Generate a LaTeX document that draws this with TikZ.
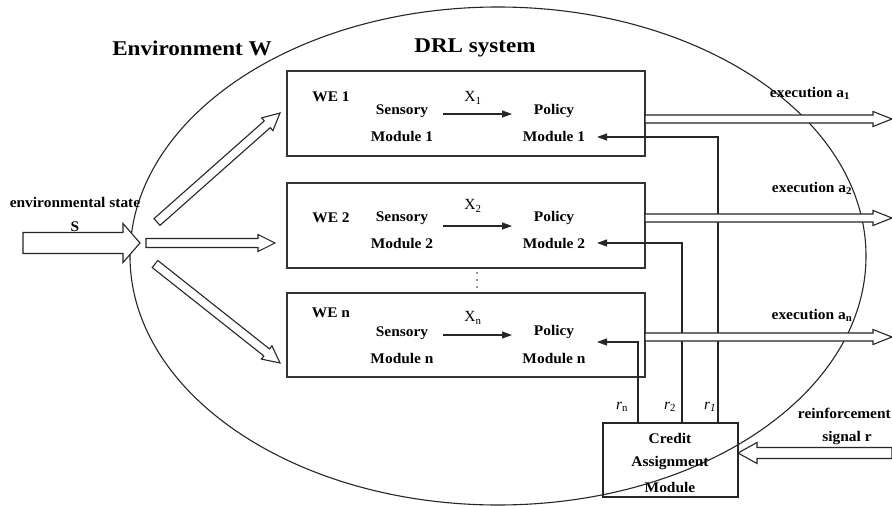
\documentclass[tikz,border=0pt]{standalone}
\usepackage{fontspec}
\setmainfont{Liberation Serif}
\newfontfamily\widefont[FakeStretch=1.05]{Liberation Serif}
\newfontfamily\titlefont[FakeStretch=1.1]{Liberation Serif}
\usetikzlibrary{arrows.meta}
\newcommand\HArrow[7]{%
  \pgfmathsetmacro\hang{atan2(#2-#4,#3-#1)}%
  \pgfmathsetmacro\hlen{veclen(#3-#1,#4-#2)}%
  \begin{scope}[shift={(#1,#2)}, rotate=\hang]
    \draw[hollow] (0,-#5) -- ({\hlen-#7},-#5) -- ({\hlen-#7},-#6) -- (\hlen,0)
      -- ({\hlen-#7},#6) -- ({\hlen-#7},#5) -- (0,#5) -- cycle;
  \end{scope}}
\begin{document}
\begin{tikzpicture}[x=1pt,y=-1pt,
  hollow/.style={draw=black!85, line width=1.1pt, fill=white, line join=miter},
  wbox/.style={draw=black!80, line width=1.4pt},
  lbl/.style={font=\widefont\bfseries\fontsize{14.7}{15}\selectfont, inner sep=0pt},
  title/.style={font=\titlefont\bfseries\fontsize{21}{22}\selectfont, inner sep=0pt},
  sym/.style={font=\fontsize{15.5}{16}\selectfont, inner sep=0pt},
  thin/.style={draw=black!85, line width=1.1pt},
  arr/.style={thin, -{Triangle[length=10pt,width=7pt]}},
  ]
\useasboundingbox (0,0) rectangle (892,506);
\fill[white] (0,0) rectangle (892,506);

% environment ellipse
\draw[line width=1.1pt, black!85] (498,256) ellipse [x radius=368, y radius=249];

\node[title] (envw) at (192,48) {Environment W};
\node[title] (drl) at (475,48) {DRL system};

% WE boxes
\draw[wbox] (287,71) rectangle (645,156);
\draw[wbox] (287,183) rectangle (645,268);
\draw[wbox] (287,293) rectangle (645,377);

% box 1
\node[lbl] (we1) at (331,97) {WE 1};
\node[lbl] (s1a) at (402,111) {Sensory};
\node[lbl] (s1b) at (402,136) {Module 1};
\node[lbl] (p1a) at (554,111) {Policy};
\node[lbl] (p1b) at (554,136) {Module 1};
\node[sym] (x1) at (473,98) {X\textsubscript{1}};
\coordinate (x1s) at (443,114); \coordinate (x1e) at (512,114);
\draw[arr] (x1s) -- (x1e);

% box 2
\node[lbl] (we2) at (331,218) {WE 2};
\node[lbl] (s2a) at (402,218) {Sensory};
\node[lbl] (s2b) at (402,243) {Module 2};
\node[lbl] (p2a) at (554,218) {Policy};
\node[lbl] (p2b) at (554,243) {Module 2};
\node[sym] (x2) at (473,206) {X\textsubscript{2}};
\coordinate (x2s) at (443,226); \coordinate (x2e) at (512,226);
\draw[arr] (x2s) -- (x2e);

% box n
\node[lbl] (wen) at (331,313) {WE n};
\node[lbl] (sna) at (402,333) {Sensory};
\node[lbl] (snb) at (402,358) {Module n};
\node[lbl] (pna) at (554,332) {Policy};
\node[lbl] (pnb) at (554,358) {Module n};
\node[sym] (xn) at (473,318) {X\textsubscript{n}};
\coordinate (xns) at (443,335); \coordinate (xne) at (512,335);
\draw[arr] (xns) -- (xne);

% dots between boxes
\foreach \yy in {273,280,287} \fill[black!85] (477,\yy) circle (0.9);

% credit assignment module
\node[draw=black!85, line width=1.1pt, minimum width=135, minimum height=74, inner sep=0pt] (cam) at (670.5,460) {};
\node[lbl] (cam1) at (670,438) {Credit};
\node[lbl] (cam2) at (670,463) {Assignment};
\node[lbl] (cam3) at (670,487) {Module};

% feedback lines
\coordinate (f1b) at (718,423); \coordinate (f1c) at (718,137); \coordinate (f1t) at (597,137);
\coordinate (f2b) at (682,423); \coordinate (f2c) at (682,243); \coordinate (f2t) at (597,243);
\coordinate (fnb) at (638,423); \coordinate (fnc) at (638,342); \coordinate (fnt) at (597,342);
\draw[arr] (f1b) -- (f1c) -- (f1t);
\draw[arr] (f2b) -- (f2c) -- (f2t);
\draw[arr] (fnb) -- (fnc) -- (fnt);
\node[sym] (rn) at (622,407) {\textit{r}\textsubscript{n}};
\node[sym] (r2) at (670,407) {\textit{r}\textsubscript{2}};
\node[sym] (r1) at (710,407) {\textit{r}\textsubscript{\textit{1}}};

% execution arrows
\HArrow{645}{119}{892}{119}{4}{7.5}{19}
\HArrow{645}{218}{892}{218}{4}{7.5}{19}
\HArrow{645}{337}{892}{337}{4}{7.5}{19}
\node[lbl] (ex1) at (810,93) {execution a\textsubscript{1}};
\node[lbl] (ex2) at (812,188) {execution a\textsubscript{2}};
\node[lbl] (exn) at (812,315) {execution a\textsubscript{n}};

% reinforcement signal
\HArrow{892}{453}{738}{453}{5.5}{10.5}{19}
\node[lbl, anchor=east] (rs1) at (891,413) {reinforcement};
\node[lbl] (rs2) at (847,438) {signal r};

% environmental state input
\HArrow{23}{243}{140}{243}{10.5}{19.5}{17}
\node[lbl] (es) at (75,202) {environmental state};
\node[lbl] (esS) at (75,227) {S};

% distribution arrows
\HArrow{146}{243}{275}{243}{4.5}{8.5}{17}
\HArrow{157}{222}{280}{113}{4.5}{8.5}{17}
\HArrow{155}{264}{280}{363}{4.5}{8.5}{17}
\end{tikzpicture}
\end{document}
